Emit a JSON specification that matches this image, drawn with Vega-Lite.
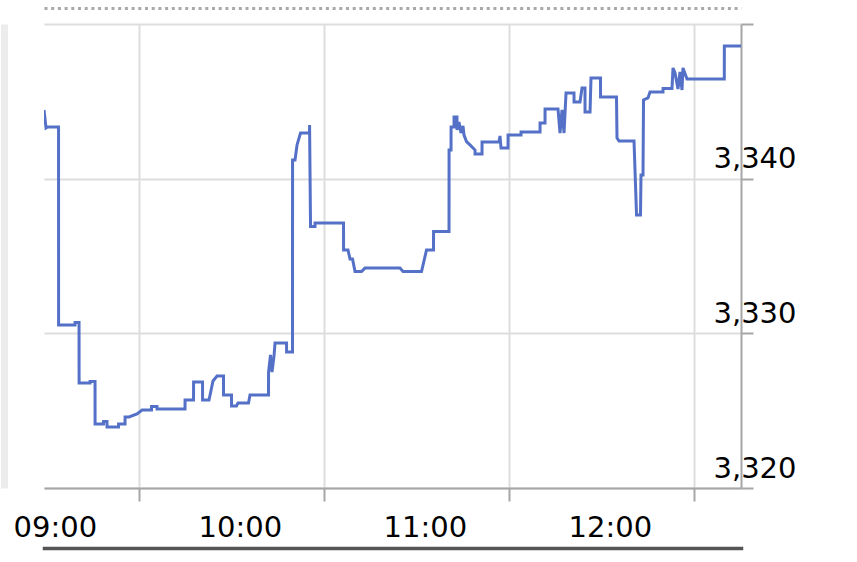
{
  "$schema": "https://vega.github.io/schema/vega-lite/v6.json",
  "width": 697,
  "height": 464,
  "autosize": "none",
  "padding": {"left": 44, "top": 24, "right": 116, "bottom": 74},
  "background": "white",
  "config": {"view": {"stroke": null}, "font": "DejaVu Sans"},
  "data": {
    "format": {"parse": {"t": "utc:'%H:%M:%S'"}},
    "values": [
      {"t": "08:59:05", "p": 3344.44}, {"t": "08:59:44", "p": 3343.28}, {"t": "09:00:14", "p": 3343.34},
      {"t": "09:03:48", "p": 3343.34}, {"t": "09:03:49", "p": 3330.54}, {"t": "09:09:09", "p": 3330.54},
      {"t": "09:09:10", "p": 3330.70}, {"t": "09:10:27", "p": 3330.70}, {"t": "09:10:28", "p": 3326.79},
      {"t": "09:14:01", "p": 3326.79}, {"t": "09:14:02", "p": 3326.89}, {"t": "09:15:38", "p": 3326.89},
      {"t": "09:15:39", "p": 3324.14}, {"t": "09:18:23", "p": 3324.14}, {"t": "09:18:24", "p": 3324.30},
      {"t": "09:19:31", "p": 3324.30}, {"t": "09:19:32", "p": 3323.94}, {"t": "09:23:15", "p": 3323.94},
      {"t": "09:23:16", "p": 3324.14}, {"t": "09:25:22", "p": 3324.14}, {"t": "09:25:23", "p": 3324.59},
      {"t": "09:26:40", "p": 3324.59}, {"t": "09:29:15", "p": 3324.79}, {"t": "09:30:53", "p": 3325.04},
      {"t": "09:33:57", "p": 3325.04}, {"t": "09:33:58", "p": 3325.27}, {"t": "09:35:44", "p": 3325.27},
      {"t": "09:35:45", "p": 3325.11}, {"t": "09:44:49", "p": 3325.11}, {"t": "09:44:50", "p": 3325.69},
      {"t": "09:47:35", "p": 3325.69}, {"t": "09:47:36", "p": 3326.85}, {"t": "09:50:30", "p": 3326.85},
      {"t": "09:50:31", "p": 3325.69}, {"t": "09:52:36", "p": 3325.69}, {"t": "09:53:54", "p": 3326.92},
      {"t": "09:55:12", "p": 3327.24}, {"t": "09:57:18", "p": 3327.24}, {"t": "09:57:19", "p": 3326.01},
      {"t": "09:59:54", "p": 3326.01}, {"t": "09:59:55", "p": 3325.30}, {"t": "10:01:31", "p": 3325.30},
      {"t": "10:02:01", "p": 3325.50}, {"t": "10:05:25", "p": 3325.50}, {"t": "10:05:54", "p": 3326.01},
      {"t": "10:11:54", "p": 3326.01}, {"t": "10:11:55", "p": 3327.50}, {"t": "10:12:33", "p": 3328.60},
      {"t": "10:13:02", "p": 3327.50}, {"t": "10:13:41", "p": 3328.53}, {"t": "10:14:01", "p": 3329.38},
      {"t": "10:17:45", "p": 3329.38}, {"t": "10:17:46", "p": 3328.79}, {"t": "10:19:41", "p": 3328.79},
      {"t": "10:19:42", "p": 3341.21}, {"t": "10:20:30", "p": 3341.21}, {"t": "10:21:09", "p": 3342.18},
      {"t": "10:22:17", "p": 3342.95}, {"t": "10:25:12", "p": 3342.95}, {"t": "10:25:13", "p": 3343.47},
      {"t": "10:25:32", "p": 3336.91}, {"t": "10:26:59", "p": 3336.91}, {"t": "10:27:00", "p": 3337.13},
      {"t": "10:36:14", "p": 3337.13}, {"t": "10:36:15", "p": 3335.39}, {"t": "10:37:41", "p": 3335.39},
      {"t": "10:38:20", "p": 3334.81}, {"t": "10:39:09", "p": 3334.81}, {"t": "10:39:58", "p": 3334.00},
      {"t": "10:42:04", "p": 3334.00}, {"t": "10:43:12", "p": 3334.22}, {"t": "10:54:33", "p": 3334.22},
      {"t": "10:55:32", "p": 3334.00}, {"t": "11:01:32", "p": 3334.00}, {"t": "11:03:09", "p": 3335.39},
      {"t": "11:05:25", "p": 3335.39}, {"t": "11:05:26", "p": 3336.58}, {"t": "11:10:27", "p": 3336.58},
      {"t": "11:10:28", "p": 3341.85}, {"t": "11:11:06", "p": 3341.85}, {"t": "11:11:07", "p": 3343.34},
      {"t": "11:12:04", "p": 3343.34}, {"t": "11:12:05", "p": 3343.99}, {"t": "11:13:02", "p": 3343.99},
      {"t": "11:13:03", "p": 3343.15}, {"t": "11:13:41", "p": 3343.66}, {"t": "11:14:20", "p": 3342.95},
      {"t": "11:14:59", "p": 3343.41}, {"t": "11:15:19", "p": 3342.82}, {"t": "11:16:07", "p": 3342.40},
      {"t": "11:17:15", "p": 3342.18}, {"t": "11:18:53", "p": 3341.85}, {"t": "11:18:54", "p": 3341.60},
      {"t": "11:21:09", "p": 3341.60}, {"t": "11:21:10", "p": 3342.37}, {"t": "11:26:40", "p": 3342.37},
      {"t": "11:26:59", "p": 3342.76}, {"t": "11:27:19", "p": 3341.98}, {"t": "11:29:35", "p": 3341.98},
      {"t": "11:29:36", "p": 3342.82}, {"t": "11:33:48", "p": 3342.82}, {"t": "11:33:49", "p": 3343.02},
      {"t": "11:39:58", "p": 3343.02}, {"t": "11:39:59", "p": 3343.60}, {"t": "11:41:35", "p": 3343.60},
      {"t": "11:41:36", "p": 3344.50}, {"t": "11:45:48", "p": 3344.50}, {"t": "11:46:27", "p": 3342.95},
      {"t": "11:47:06", "p": 3344.44}, {"t": "11:47:45", "p": 3342.95}, {"t": "11:48:24", "p": 3345.54},
      {"t": "11:50:59", "p": 3345.54}, {"t": "11:51:00", "p": 3344.96}, {"t": "11:52:56", "p": 3344.96},
      {"t": "11:53:35", "p": 3345.86}, {"t": "11:54:33", "p": 3345.86}, {"t": "11:54:34", "p": 3344.31},
      {"t": "11:56:11", "p": 3344.31}, {"t": "11:56:30", "p": 3346.51}, {"t": "11:59:35", "p": 3346.51},
      {"t": "11:59:36", "p": 3345.28}, {"t": "12:04:46", "p": 3345.28}, {"t": "12:04:56", "p": 3342.63},
      {"t": "12:05:35", "p": 3342.44}, {"t": "12:10:27", "p": 3342.44}, {"t": "12:11:16", "p": 3337.65},
      {"t": "12:12:33", "p": 3337.65}, {"t": "12:12:43", "p": 3340.24}, {"t": "12:13:22", "p": 3340.24},
      {"t": "12:13:32", "p": 3345.09}, {"t": "12:14:59", "p": 3345.22}, {"t": "12:15:38", "p": 3345.60},
      {"t": "12:19:51", "p": 3345.60}, {"t": "12:19:52", "p": 3345.83}, {"t": "12:22:46", "p": 3345.83},
      {"t": "12:23:06", "p": 3347.16}, {"t": "12:23:45", "p": 3346.83}, {"t": "12:24:43", "p": 3345.80},
      {"t": "12:25:22", "p": 3346.90}, {"t": "12:26:01", "p": 3345.73}, {"t": "12:26:20", "p": 3347.16},
      {"t": "12:27:38", "p": 3346.44}, {"t": "12:39:44", "p": 3346.44}, {"t": "12:39:45", "p": 3348.58},
      {"t": "12:45:09", "p": 3348.58}
    ]
  },
  "resolve": {"axis": {"x": "independent", "y": "independent"}},
  "layer": [
    {
      "mark": {"type": "line", "strokeOpacity": 0, "clip": true},
      "encoding": {
        "x": {
          "field": "t",
          "type": "temporal",
          "axis": {
            "orient": "top",
            "offset": 16,
            "title": null,
            "labels": false,
            "ticks": false,
            "grid": false,
            "domainColor": "#a9a9a9",
            "domainWidth": 3,
            "domainDash": [3, 3.7]
          }
        },
        "y": {
          "field": "p",
          "type": "quantitative",
          "axis": {
            "orient": "left",
            "offset": 40,
            "title": null,
            "labels": false,
            "ticks": false,
            "grid": false,
            "domainColor": "#ececec",
            "domainWidth": 7
          }
        }
      }
    },
    {
      "mark": {"type": "line", "strokeOpacity": 0, "clip": true},
      "encoding": {
        "x": {
          "field": "t",
          "type": "temporal",
          "axis": {
            "orient": "bottom",
            "offset": 60,
            "title": null,
            "labels": false,
            "ticks": false,
            "grid": false,
            "domainColor": "#555555",
            "domainWidth": 3.5,
            "domainCap": "square"
          }
        },
        "y": {"field": "p", "type": "quantitative", "axis": null}
      }
    },
    {
      "mark": {"type": "line", "color": "#5471c7", "strokeWidth": 3, "clip": true},
      "encoding": {
        "x": {
          "field": "t",
          "type": "temporal",
          "scale": {
            "type": "utc",
            "nice": false,
            "domain": [
              {"year": 1900, "month": 1, "date": 1, "hours": 8, "minutes": 59, "seconds": 5, "utc": true},
              {"year": 1900, "month": 1, "date": 1, "hours": 12, "minutes": 45, "seconds": 9, "utc": true}
            ]
          },
          "axis": {
            "orient": "bottom",
            "title": null,
            "values": [
              {"year": 1900, "month": 1, "date": 1, "hours": 9, "utc": true},
              {"year": 1900, "month": 1, "date": 1, "hours": 10, "utc": true},
              {"year": 1900, "month": 1, "date": 1, "hours": 11, "utc": true},
              {"year": 1900, "month": 1, "date": 1, "hours": 12, "utc": true}
            ],
            "format": "%H:%M",
            "tickOffset": 92.5,
            "tickExtra": false,
            "labelOffset": -84.5,
            "grid": true,
            "gridColor": "#dddddd",
            "gridWidth": 2,
            "domainColor": "#a6a6a6",
            "domainWidth": 2,
            "tickColor": "#a6a6a6",
            "tickWidth": 2,
            "tickSize": 13,
            "labelFont": "DejaVu Sans",
            "labelFontSize": 29,
            "labelColor": "#000000",
            "labelBaseline": "alphabetic",
            "labelPadding": 35,
            "labelFlush": false,
            "labelOverlap": false,
            "labelBound": false
          }
        },
        "y": {
          "field": "p",
          "type": "quantitative",
          "scale": {"domain": [3320, 3350], "nice": false, "zero": false},
          "axis": {
            "title": null,
            "orient": "right",
            "values": [3320, 3330, 3340, 3350],
            "labelExpr": "datum.value == 3350 ? '' : format(datum.value, ',')",
            "grid": true,
            "gridColor": "#dddddd",
            "gridWidth": 2,
            "domainColor": "#a6a6a6",
            "domainWidth": 2,
            "tickColor": "#a6a6a6",
            "tickWidth": 2,
            "tickSize": 12,
            "labelFont": "DejaVu Sans",
            "labelFontSize": 29,
            "labelColor": "#000000",
            "labelAlign": "left",
            "labelBaseline": "alphabetic",
            "labelOffset": -11,
            "labelPadding": -40,
            "labelFlush": false,
            "labelOverlap": false,
            "labelBound": false
          }
        }
      }
    }
  ]
}
